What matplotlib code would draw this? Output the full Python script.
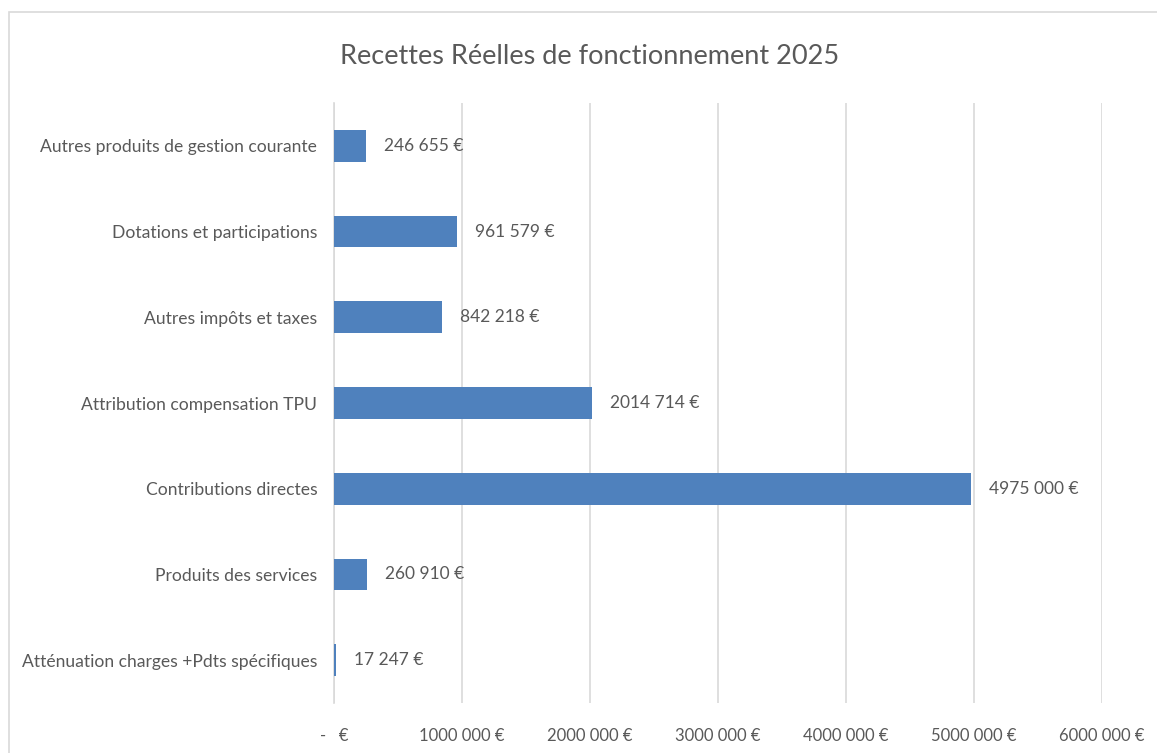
import matplotlib.pyplot as plt
from matplotlib.patches import Rectangle

# Données
categories = [
    "Atténuation charges +Pdts spécifiques",
    "Produits des services",
    "Contributions directes",
    "Attribution compensation TPU",
    "Autres impôts et taxes",
    "Dotations et participations",
    "Autres produits de gestion courante",
]
montants = [17247, 260910, 4975000, 2014714, 842218, 961579, 246655]
etiquettes = ["17 247 €", "260 910 €", "4975 000 €", "2014 714 €",
              "842 218 €", "961 579 €", "246 655 €"]
graduations = [0, 1000000, 2000000, 3000000, 4000000, 5000000, 6000000]
graduations_txt = ["-   €", "1000 000 €", "2000 000 €", "3000 000 €",
                   "4000 000 €", "5000 000 €", "6000 000 €"]

plt.rcParams['font.family'] = ['Lato', 'DejaVu Sans']
gris = '#595959'

fig = plt.figure(figsize=(11.57, 7.53), dpi=100)
ax = fig.add_axes([0.2887, 0.0664, 0.9524 - 0.2887, 0.8632 - 0.0664])

# cadre du graphique
fig.patches.append(Rectangle((9 / 1157, -0.1), 1.2, 1 - 12 / 753 + 0.1,
                             transform=fig.transFigure, fill=False,
                             edgecolor='#D9D9D9', linewidth=1.2))

y = range(len(categories))
ax.barh(y, montants, height=0.37, color='#4F81BD', zorder=3)

for yi, v, t in zip(y, montants, etiquettes):
    ax.annotate(t, (v, yi), xytext=(13, 0), textcoords='offset points',
                va='center', ha='left', fontsize=12.5, color=gris)

ax.set_xlim(0, 6000000)
ax.set_ylim(-0.5, len(categories) - 0.5)
ax.set_xticks(graduations)
ax.set_xticklabels(graduations_txt, fontsize=12, color=gris)
ax.set_yticks(list(y))
ax.set_yticklabels(categories, fontsize=12.6, color=gris)
ax.tick_params(axis='both', length=0)
ax.tick_params(axis='x', pad=18)
ax.tick_params(axis='y', pad=12)
ax.grid(axis='x', color='#D9D9D9', linewidth=1.2, zorder=0)
for s in ['top', 'right', 'bottom']:
    ax.spines[s].set_visible(False)
ax.spines['left'].set_color('#D9D9D9')
ax.spines['left'].set_linewidth(1.2)

fig.text(590 / 1157, 1 - 56 / 753, "Recettes Réelles de fonctionnement 2025",
         ha='center', va='center', fontsize=19.5, color=gris)

fig.savefig("out.png", dpi=100)
